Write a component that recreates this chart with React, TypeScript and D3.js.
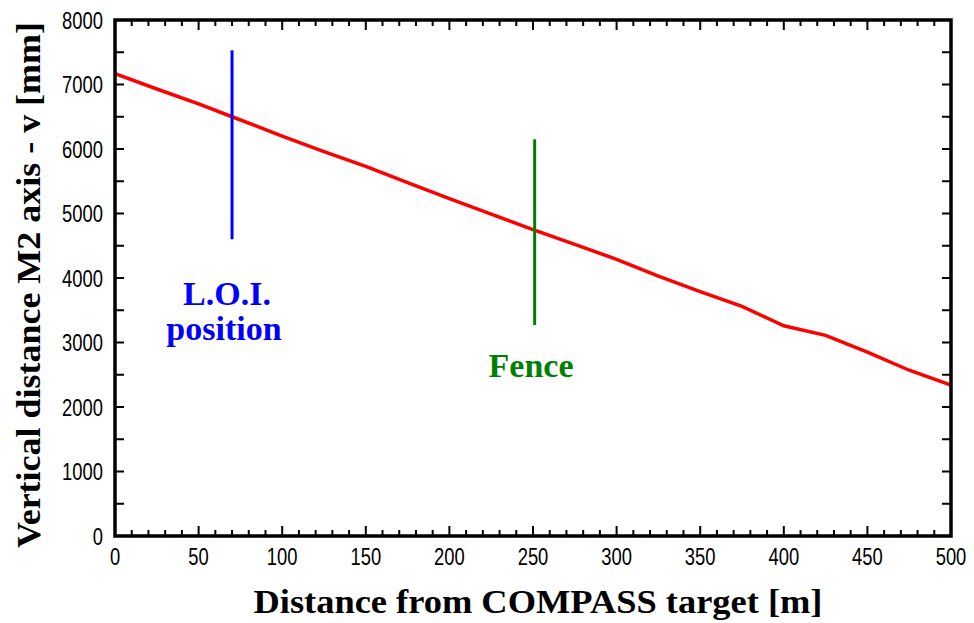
import * as d3 from "d3";

// distance from target [m] vs vertical distance [mm]
const distance = [0, 25, 50, 70, 100, 125, 150, 175, 200, 225, 250, 275, 300, 325, 350, 375, 400, 425, 450, 475, 500];
const vertical = [7170, 6930, 6700, 6500, 6200, 5960, 5730, 5480, 5230, 4990, 4750, 4520, 4290, 4030, 3790, 3560, 3260, 3110, 2850, 2570, 2340];

const markerNames = ["L.O.I.|position", "Fence"];
const markerX = [70, 251];
const markerTop = [7530, 6150];
const markerBottom = [4600, 3270];
const markerColors = ["#0000ff", "#008000"];

const xTicks = [0, 50, 100, 150, 200, 250, 300, 350, 400, 450, 500];
const yTicks = [0, 1000, 2000, 3000, 4000, 5000, 6000, 7000, 8000];

const W = 974;
const H = 623;
const m = { left: 115, right: 23, top: 20, bottom: 87 };

export default function App() {
  const x = d3.scaleLinear().domain([0, 500]).range([m.left, W - m.right]);
  const y = d3.scaleLinear().domain([0, 8000]).range([H - m.bottom, m.top]);

  const line = d3
    .line<number>()
    .x((_, i) => x(distance[i]))
    .y((d) => y(d));

  const xMinor = d3.range(0, 501, 10);
  const yMinor = d3.range(0, 8001, 500);
  const tickFont = "Arial, 'Liberation Sans', sans-serif";
  const titleFont = "'Liberation Serif', 'Times New Roman', serif";

  return (
    <svg width={W} height={H} style={{ position: "absolute", left: 0, top: 0, background: "#fff" }}>
      {/* data line */}
      <path d={line(vertical) ?? ""} fill="none" stroke="#ff0000" strokeWidth={3.5} />

      {/* marker lines */}
      {markerX.map((v, i) => (
        <line
          key={"mk" + i}
          x1={x(v)}
          x2={x(v)}
          y1={y(markerTop[i])}
          y2={y(markerBottom[i])}
          stroke={markerColors[i]}
          strokeWidth={3}
        />
      ))}

      {/* marker labels */}
      <g fontFamily={titleFont} fontWeight="bold" fontSize={34} textAnchor="middle">
        <text x={227} y={305} fill={markerColors[0]}>
          {markerNames[0].split("|")[0]}
        </text>
        <text x={224} y={340} fill={markerColors[0]}>
          {markerNames[0].split("|")[1]}
        </text>
        <text x={531} y={377} fill={markerColors[1]}>
          {markerNames[1]}
        </text>
      </g>

      {/* ticks, inward on all four sides */}
      {xMinor.map((v) => {
        const len = v % 50 === 0 ? 10 : 6;
        return (
          <g key={"xt" + v} stroke="#000" strokeWidth={2}>
            <line x1={x(v)} x2={x(v)} y1={y(0)} y2={y(0) - len} />
            <line x1={x(v)} x2={x(v)} y1={y(8000)} y2={y(8000) + len} />
          </g>
        );
      })}
      {yMinor.map((v) => (
        <g key={"yt" + v} stroke="#000" strokeWidth={2}>
          <line x1={x(0)} x2={x(0) + 9} y1={y(v)} y2={y(v)} />
          <line x1={x(500)} x2={x(500) - 9} y1={y(v)} y2={y(v)} />
        </g>
      ))}

      {/* frame */}
      <rect
        x={x(0)}
        y={y(8000)}
        width={x(500) - x(0)}
        height={y(0) - y(8000)}
        fill="none"
        stroke="#000"
        strokeWidth={3.5}
      />

      {/* tick labels, narrow face */}
      {xTicks.map((v) => (
        <text
          key={"xl" + v}
          transform={`translate(${x(v)},${y(0) + 29}) scale(0.8,1)`}
          textAnchor="middle"
          fontFamily={tickFont}
          fontSize={23}
          fill="#000"
        >
          {v}
        </text>
      ))}
      {yTicks.map((v) => (
        <text
          key={"yl" + v}
          transform={`translate(${x(0) - 12},${y(v) + 8.5}) scale(0.8,1)`}
          textAnchor="end"
          fontFamily={tickFont}
          fontSize={23}
          fill="#000"
        >
          {v}
        </text>
      ))}

      {/* axis titles */}
      <text
        x={538}
        y={613}
        textAnchor="middle"
        fontFamily={titleFont}
        fontWeight="bold"
        fontSize={34}
        textLength={569}
        lengthAdjust="spacingAndGlyphs"
        fill="#000"
      >
        Distance from COMPASS target [m]
      </text>
      <text
        transform={`translate(40,${285}) rotate(-90)`}
        textAnchor="middle"
        fontFamily={titleFont}
        fontWeight="bold"
        fontSize={34}
        textLength={526}
        lengthAdjust="spacingAndGlyphs"
        fill="#000"
      >
        Vertical distance M2 axis - v [mm]
      </text>
    </svg>
  );
}
